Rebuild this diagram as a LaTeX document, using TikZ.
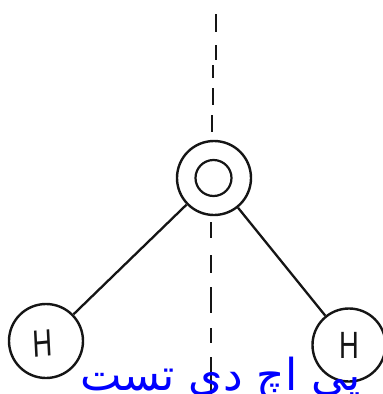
\documentclass[tikz,border=0pt]{standalone}
\usepackage{fontspec}
\newfontfamily\arabicfont[Script=Arabic]{DejaVu Sans}
\newfontfamily\hfont{Liberation Sans}
\TeXXeTstate=1
\definecolor{ink}{HTML}{151515}
\tikzset{
  atom/.style={circle,draw=ink,line width=2.4pt,inner sep=0pt,minimum size=#1},
  bond/.style={draw=ink,line width=2.3pt},
  axisdash/.style={draw=ink,line width=1.7pt},
  hlabel/.style={text=ink,font=\hfont\fontsize{38}{38}\selectfont,xscale=.72,inner sep=0pt},
  caption/.style={text=blue,font=\arabicfont\fontsize{44}{44}\selectfont,inner sep=0pt}
}
\begin{document}
\begin{tikzpicture}[x=1pt,y=-1pt]
\useasboundingbox (0,0) rectangle (383,394);
\clip (0,0) rectangle (383,394);
\node[atom=74pt] (O) at (214,178) {};
\node[atom=36pt,line width=2.2pt] (Oin) at (213.5,178) {};
\node[atom=74pt] (H1) at (46,341) {};
\node[atom=73pt] (H2) at (349,345) {};
\node[hlabel,rotate=4] (H1t) at (43,343) {H};
\node[hlabel] (H2t) at (349,345) {H};
\draw[bond] (O) -- (H1);
\draw[bond] (O) -- (H2);
\foreach \xa/\ya/\xb/\yb in {216/14/216/32,216/45/216/60,213/65/213/78,213/88/213/105,212/115/212/132,211/222/211/238,211/255/211/273,211/287/211/313,211/328/211/343,211/357/211/394}
  \draw[axisdash] (\xa,\ya) -- (\xb,\yb);
\node[caption,anchor=base west] (cap) at (80,390) {\beginR پی اچ دی تست\endR};
\end{tikzpicture}
\end{document}
